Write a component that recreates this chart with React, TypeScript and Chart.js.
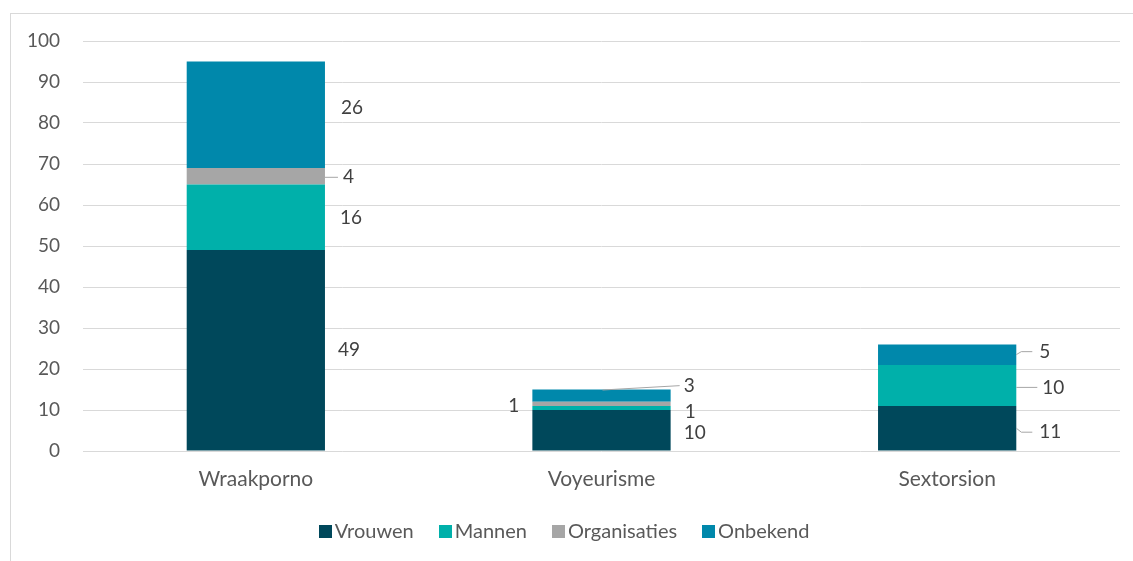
import React, { useEffect, useRef } from 'react';
import { Chart, registerables } from 'chart.js';

Chart.register(...registerables);

const categories = ['Wraakporno', 'Voyeurisme', 'Sextorsion'];
const seriesNames = ['Vrouwen', 'Mannen', 'Organisaties', 'Onbekend'];
const vrouwen = [49, 10, 11];
const mannen = [16, 1, 10];
const organisaties = [4, 1, 0];
const onbekend = [26, 3, 5];
const yTickValues = [0, 10, 20, 30, 40, 50, 60, 70, 80, 90, 100];

const seriesColors = ['#00485B', '#00B0AA', '#A6A6A6', '#0088AB'];
const FONT = 'Lato, "Open Sans", sans-serif';

// label placement per [series][category]: offset from bar edge and segment centre
type Place = { dx: number; dy: number; side?: 'left' | 'right'; leader?: 'edge' | 'top' | 'curve' };
const placements: Place[][] = [
  [{ dx: 13, dy: 0 }, { dx: 13, dy: 3 }, { dx: 23, dy: 4, leader: 'curve' }],
  [{ dx: 15, dy: 1 }, { dx: 14, dy: 4 }, { dx: 26, dy: 2, leader: 'edge' }],
  [{ dx: 18, dy: 1, leader: 'edge' }, { dx: 13, dy: 2, side: 'left' }, { dx: 13, dy: 0 }],
  [{ dx: 16, dy: -7 }, { dx: 13, dy: -10, leader: 'top' }, { dx: 23, dy: -3, leader: 'curve' }],
];

const segLabels = {
  id: 'segLabels',
  afterDatasetsDraw(chart: any) {
    const ctx = chart.ctx;
    ctx.save();
    ctx.font = `19px ${FONT}`;
    ctx.fillStyle = '#404040';
    ctx.textBaseline = 'middle';
    chart.data.datasets.forEach((ds: any, di: number) => {
      const meta = chart.getDatasetMeta(di);
      meta.data.forEach((bar: any, i: number) => {
        const v = ds.data[i];
        if (!v) return;
        const p = bar.getProps(['x', 'y', 'base', 'width'], true);
        const pl = placements[di][i];
        const left = p.x - p.width / 2;
        const right = p.x + p.width / 2;
        const mid = (p.y + p.base) / 2;
        const ty = mid + pl.dy;
        if (pl.side === 'left') {
          ctx.textAlign = 'right';
          ctx.fillText(String(v), left - pl.dx, ty);
          return;
        }
        const tx = right + pl.dx;
        ctx.textAlign = 'left';
        if (pl.leader) {
          ctx.strokeStyle = '#A6A6A6';
          ctx.lineWidth = 1;
          ctx.beginPath();
          if (pl.leader === 'top') {
            ctx.moveTo(p.x + 1, p.y + 0.5);
            ctx.lineTo(tx - 4, ty);
          } else if (pl.leader === 'curve') {
            ctx.moveTo(right, mid);
            ctx.lineTo(right + 5, ty);
            ctx.lineTo(tx - 7, ty);
          } else {
            ctx.moveTo(right, ty);
            ctx.lineTo(tx - 5, ty);
          }
          ctx.stroke();
        }
        ctx.fillText(String(v), tx, ty);
      });
    });
    ctx.restore();
  },
};

const customLegend = {
  id: 'customLegend',
  afterDraw(chart: any) {
    const ctx = chart.ctx;
    ctx.save();
    ctx.font = `20px ${FONT}`;
    ctx.textBaseline = 'middle';
    ctx.textAlign = 'left';
    const box = 13;
    const gapText = 3;
    const gapItem = 25;
    const items = chart.data.datasets.map((d: any) => ({
      label: d.label,
      color: d.backgroundColor,
      w: ctx.measureText(d.label).width,
    }));
    const total = items.reduce((s: number, it: any) => s + box + gapText + it.w, 0) + gapItem * (items.length - 1);
    const centerX = 564;
    const cy = 531;
    let x = centerX - total / 2;
    items.forEach((it: any) => {
      ctx.fillStyle = it.color;
      ctx.fillRect(Math.round(x), Math.round(cy - box / 2), box, box);
      x += box + gapText;
      ctx.fillStyle = '#595959';
      ctx.fillText(it.label, x, cy + 1);
      x += it.w + gapItem;
    });
    ctx.restore();
  },
};

export default function App() {
  const ref = useRef<HTMLCanvasElement>(null);
  useEffect(() => {
    if (!ref.current) return;
    const seriesData = [vrouwen, mannen, organisaties, onbekend];
    const chart = new Chart(ref.current, {
      type: 'bar',
      data: {
        labels: categories,
        datasets: seriesNames.map((name, i) => ({
          label: name,
          data: seriesData[i],
          backgroundColor: seriesColors[i],
          borderWidth: 0,
          categoryPercentage: 1,
          barPercentage: 0.4,
        })),
      },
      options: {
        animation: false,
        responsive: false,
        maintainAspectRatio: false,
        layout: { padding: { top: 41, left: 0, right: 13, bottom: 0 } },
        plugins: {
          legend: { display: false },
          tooltip: { enabled: false },
        },
        scales: {
          x: {
            stacked: true,
            grid: { display: false, drawTicks: false },
            border: { display: false },
            ticks: { color: '#595959', font: { family: FONT, size: 21 }, padding: 16 },
            afterFit: (s: any) => { s.height = 110; },
          },
          y: {
            stacked: true,
            min: 0,
            max: 100,
            afterBuildTicks: (s: any) => { s.ticks = yTickValues.map((v) => ({ value: v })); },
            grid: { color: '#D9D9D9', lineWidth: 1, drawTicks: false },
            border: { display: false },
            ticks: { color: '#595959', font: { family: FONT, size: 19 }, padding: 23 },
            afterFit: (s: any) => { s.width = 83; },
          },
        },
      },
      plugins: [segLabels, customLegend],
    });
    return () => chart.destroy();
  }, []);
  return (
    <div style={{ position: 'absolute', left: 0, top: 0, width: 1133, height: 561, overflow: 'hidden', background: '#fff' }}>
      <div style={{ position: 'absolute', left: 10, top: 13, width: 1200, height: 600, border: '1px solid #D9D9D9', boxSizing: 'border-box' }} />
      <canvas ref={ref} width={1133} height={561} style={{ position: 'absolute', left: 0, top: 0, width: 1133, height: 561 }} />
    </div>
  );
}
